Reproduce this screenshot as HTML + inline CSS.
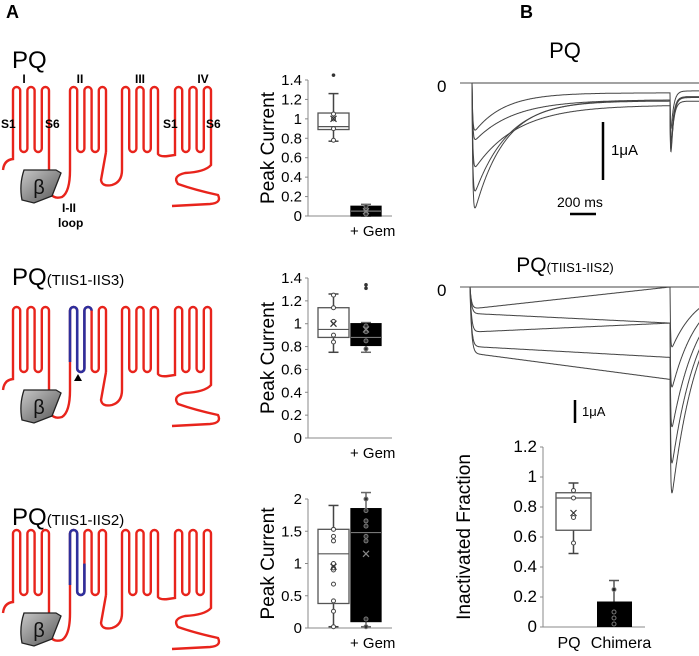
<!DOCTYPE html>
<html><head><meta charset="utf-8"><style>
body{margin:0;background:#fff}
svg{display:block;font-family:"Liberation Sans",sans-serif}
</style></head><body>
<svg id="fig" width="699" height="656" viewBox="0 0 699 656">
<text x="6" y="18" font-size="18" font-weight="bold">A</text>
<text x="520" y="18" font-size="18" font-weight="bold">B</text>
<g id="schem"></g>
<g id="charts"></g>
<g id="traces"></g>
</svg>
<script>
const NS="http://www.w3.org/2000/svg";
function el(parent,tag,attrs,txt){const e=document.createElementNS(NS,tag);for(const k in attrs)e.setAttribute(k,attrs[k]);if(txt!==undefined)e.textContent=txt;parent.appendChild(e);return e;}

/* ---------- Schematics ---------- */
const schem=document.getElementById('schem');
const domainX=[13,70,122,175];
function serp(x0,top,bot){let d=`M${x0},${bot}`;const w=7.2;for(let i=0;i<6;i++){const x=x0+i*w;if(i%2===0){d+=` L${x},${top+3.6} A3.6,3.6 0 0 1 ${x+w},${top+3.6}`;}else if(i<5){d+=` L${x},${bot-3.6} A3.6,3.6 0 0 0 ${x+w},${bot-3.6}`;}else{d+=` L${x},${bot}`;}}return d;}
function drawSchem(dy,titleY,blueCount,title,sub,showLabels,idx){
  const g=el(schem,'g',{});
  const t=el(g,'text',{x:12,y:titleY,'font-size':24,},title);
  if(sub){el(t,'tspan',{'font-size':15},sub);}
  const top=87+dy,bot=152+dy;
  const red='#e8241c';
  domainX.forEach((x0,i)=>{el(g,'path',{d:serp(x0,top,bot),fill:'none',stroke:red,'stroke-width':2.4,});});
  const c=[`M3,${170+dy} Q4,${160+dy} 13,${159+dy} L13,${bot}`,
    `M49,${bot} L49,${190+dy} Q52,${200+dy} 62,${197+dy} Q70,${192+dy} 70,${170+dy} L70,${bot}`,
    `M106,${bot} L101,${180+dy} Q102,${187+dy} 112,${185+dy} Q122,${182+dy} 122,${170+dy} L122,${bot}`,
    `M158,${bot} L158,${154+dy} Q160,${157+dy} 168,${156+dy} L175,${155+dy} L175,${bot}`,
    `M211,${bot} L211,${165+dy} Q205,${172+dy} 185,${173+dy} Q172,${176+dy} 178,${184+dy} Q195,${190+dy} 218,${195+dy} Q222,${203+dy} 210,${204+dy} L172,${206+dy}`];
  c.forEach(d=>el(g,'path',{d,fill:'none',stroke:red,'stroke-width':2.4,}));
  if(blueCount){const w=7.2;let d=`M70,${bot-10}`;for(let i=0;i<blueCount;i++){const x=70+i*w;if(i%2===0){d+=` L${x},${top+3.6} A3.6,3.6 0 0 1 ${x+w},${top+3.6}`;}else{d+=` L${x},${bot-3.6} A3.6,3.6 0 0 0 ${x+w},${bot-3.6}`;}}d+=` L${70+blueCount*w},${top+3.6+(blueCount%2?0:30)}`;
    el(g,'path',{d,fill:'none',stroke:'#2e2f9c','stroke-width':2.6,});}
  const by=170+dy;
  const grad=el(g,'linearGradient',{id:'bg'+idx,x1:0,y1:0,x2:1,y2:1});
  el(grad,'stop',{offset:0,'stop-color':'#c8c8c8'});el(grad,'stop',{offset:1,'stop-color':'#555'});
  el(g,'path',{d:`M24,${by} L56,${by} L61,${by+3} L52,${by+26} L34,${by+33} L22,${by+30} Q19,${by+15} 24,${by}Z`,fill:`url(#bg${idx})`,stroke:'#222','stroke-width':1.3,});
  el(g,'text',{x:39,y:by+24,'font-size':20,'text-anchor':'middle',fill:'#111',},'β');
  if(showLabels){
    [['I',24],['II',80],['III',140],['IV',203]].forEach(([s,x])=>el(g,'text',{x,y:83,'font-size':12,'font-weight':'bold','text-anchor':'middle',},s));
    [['S1',1],['S6',45],['S1',163],['S6',206]].forEach(([s,x])=>el(g,'text',{x,y:128,'font-size':12,'font-weight':'bold',},s));
    el(g,'text',{x:62,y:212,'font-size':12,'font-weight':'bold',},'I-II');
    el(g,'text',{x:58,y:227,'font-size':12,'font-weight':'bold',},'loop');
  }
  return g;
}
drawSchem(0,68,0,'PQ','',true,1);
const g2=drawSchem(220,285,3,'PQ','(TIIS1-IIS3)',false,2);
el(g2,'path',{d:'M78,374 L82,381 L74,381Z',fill:'#000',});
drawSchem(443,525,2,'PQ','(TIIS1-IIS2)',false,3);

/* ---------- Box plot data ---------- */
const c1Ticks=[0,0.2,0.4,0.6,0.8,1,1.2,1.4];
const c1PQ=[0.77,0.89,0.92,1.06,1.26];
const c1PQMean=1.0, c1PQOut=[1.45];
const c1PQPts=[0.9,1.0,1.05,0.78];
const c1Gem=[0.0,0.0,0.05,0.1,0.12];
const c1GemMean=0.05, c1GemOut=[];
const c1GemPts=[0.02,0.06,0.1];

const c2Ticks=[0,0.2,0.4,0.6,0.8,1,1.2,1.4];
const c2PQ=[0.75,0.88,0.95,1.14,1.26];
const c2PQMean=1.0, c2PQOut=[];
const c2PQPts=[0.84,0.9,1.02,1.14,1.25];
const c2Gem=[0.75,0.81,0.88,1.0,1.01];
const c2GemMean=0.95, c2GemOut=[1.31,1.34];
const c2GemPts=[0.78,0.85,0.93,0.98];

const c3Ticks=[0,0.5,1,1.5,2];
const c3PQ=[0.02,0.38,1.15,1.53,1.9];
const c3PQMean=0.95, c3PQOut=[];
const c3PQPts=[0.02,0.26,0.42,0.68,0.9,0.93,1.0,1.35,1.42,1.53];
const c3Gem=[0.02,0.1,1.48,1.85,2.1];
const c3GemMean=1.15, c3GemOut=[];
const c3GemPts=[0.02,0.14,1.35,1.42,1.58,1.66,1.82,2.0];

const ifTicks=[0,0.2,0.4,0.6,0.8,1,1.2];
const ifPQ=[0.49,0.645,0.86,0.895,0.96];
const ifPQMean=0.76;
const ifPQPts=[0.56,0.73,0.86,0.91];
const ifChimera=0.17, ifChimeraErr=0.31;
const ifChimeraPts=[0.02,0.06,0.1,0.25];

const charts=document.getElementById('charts');
function scaleY(y0,y1,vmax){return v=>y0-(y0-y1)*v/vmax;}
function axis(g,ax,y0,y1,x1,ticks,vmax,fmt,fs){
  const Y=scaleY(y0,y1,vmax);
  el(g,'line',{x1:ax,y1:Y(vmax),x2:ax,y2:y0,stroke:'#888','stroke-width':1,});
  el(g,'line',{x1:ax,y1:y0,x2:x1,y2:y0,stroke:'#888','stroke-width':1,});
  ticks.forEach(t=>{el(g,'line',{x1:ax-3,y1:Y(t),x2:ax,y2:Y(t),stroke:'#888',});
    el(g,'text',{x:ax-6,y:Y(t)+5,'font-size':fs,'text-anchor':'end',},fmt(t));});
  return Y;
}
function box(g,Y,xl,xr,st,mean,outs,pts,dark,name){
  const bg=el(g,'g',{});
  const xc=(xl+xr)/2, wc=dark?'#666':'#444';
  el(bg,'line',{x1:xc,y1:Y(st[0]),x2:xc,y2:Y(st[4]),stroke:wc,'stroke-width':1.5,});
  [st[0],st[4]].forEach(v=>el(bg,'line',{x1:xc-5,y1:Y(v),x2:xc+5,y2:Y(v),stroke:wc,'stroke-width':1.5,}));
  el(bg,'rect',{x:xl,y:Y(st[3]),width:xr-xl,height:Math.max(1,Y(st[1])-Y(st[3])),fill:dark?'#000':'#fff',stroke:dark?'#000':'#555','stroke-width':1.3,});
  el(bg,'line',{x1:xl,y1:Y(st[2]),x2:xr,y2:Y(st[2]),stroke:dark?'#777':'#555','stroke-width':1.2,});
  const pc=dark?'#777':'#444';
  pts.forEach(v=>el(bg,'circle',{cx:xc,cy:Y(v),r:2,fill:dark?'#333':'#fff',stroke:pc,'stroke-width':1,}));
  outs.forEach(v=>el(bg,'circle',{cx:xc,cy:Y(v),r:1.8,fill:'#333',}));
  const m=Y(mean);
  el(bg,'path',{d:`M${xc-3},${m-3}L${xc+3},${m+3}M${xc+3},${m-3}L${xc-3},${m+3}`,stroke:dark?'#888':'#333','stroke-width':1.2,});
}
function peakChart(idx,y0,y1,vmax,ticks,fmt,pq,pqm,pqo,pqp,gem,gm,go,gp){
  const g=el(charts,'g',{});
  const Y=axis(g,308,y0,y1,392,ticks,vmax,fmt,15);
  el(g,'text',{x:0,y:0,transform:`translate(274,${(y0+y1)/2}) rotate(-90)`,'font-size':19,'text-anchor':'middle',},'Peak Current');
  box(g,Y,318,349,pq,pqm,pqo,pqp,false,'box-pq');
  box(g,Y,351,381,gem,gm,go,gp,true,'box-gem');
  el(g,'text',{x:350,y:y0+20,'font-size':15,},'+ Gem');
}
const f1=t=>String(t);
peakChart(1,216,80,1.4,c1Ticks,f1,c1PQ,c1PQMean,c1PQOut,c1PQPts,c1Gem,c1GemMean,c1GemOut,c1GemPts);
peakChart(2,438,278,1.4,c2Ticks,f1,c2PQ,c2PQMean,c2PQOut,c2PQPts,c2Gem,c2GemMean,c2GemOut,c2GemPts);
peakChart(3,628,499,2,c3Ticks,f1,c3PQ,c3PQMean,c3PQOut,c3PQPts,c3Gem,c3GemMean,c3GemOut,c3GemPts);

(function(){
  const g=el(charts,'g',{});
  const Y=axis(g,543,627,447,645,ifTicks,1.2,f1,17);
  el(g,'text',{x:0,y:0,transform:'translate(470,537) rotate(-90)','font-size':19,'text-anchor':'middle',},'Inactivated Fraction');
  box(g,Y,556,591,ifPQ,ifPQMean,[],ifPQPts,false,'box-pq');
  const bg=el(g,'g',{});
  el(bg,'line',{x1:614,y1:Y(ifChimera),x2:614,y2:Y(ifChimeraErr),stroke:'#555','stroke-width':1.5,});
  el(bg,'line',{x1:609,y1:Y(ifChimeraErr),x2:619,y2:Y(ifChimeraErr),stroke:'#555','stroke-width':1.5,});
  el(bg,'rect',{x:597,y:Y(ifChimera),width:35,height:Y(0)-Y(ifChimera),fill:'#000',});
  ifChimeraPts.forEach(v=>el(bg,'circle',{cx:614,cy:Y(v),r:2,fill:v>ifChimera?'#222':'none',stroke:'#777',}));
  el(g,'text',{x:569,y:648,'font-size':16,'text-anchor':'middle',},'PQ');
  el(g,'text',{x:621,y:648,'font-size':16,'text-anchor':'middle',},'Chimera');
})();

/* ---------- Current traces ---------- */
const topPeaks=[0,0.9,1.05,1.55,2.05,2.4];      // μA
const topEnds=[0,0.17,0.29,0.38,0.29,0.31];
const topTau=[1,230,300,330,260,230];             // ms
const topTails=[0,1.1,1.3,1.4,1.5,1.6];
const midStarts=[0,1.0,1.2,2.05,2.7,3.0];
const midEnds=[0,0,1.64,1.64,3.2,4.2];
const midTails=[0,3.0,5.0,7.0,8.8,10.3];
const tr=document.getElementById('traces');
function traces(name,x0,xEnd,yBase,pxPerUA,fn,tails,tailTau,tailRest){
  const g=el(tr,'g',{});
  el(g,'line',{x1:460,y1:yBase,x2:x0,y2:yBase,stroke:'#555','stroke-width':1,});
  const pxPerMs=26/200, dur=(xEnd-x0)/pxPerMs;
  for(let i=0;i<fn.length;i++){
    let d=`M${x0},${yBase}`;
    for(let t=0;t<=dur;t+=2){d+=` L${(x0+t*pxPerMs).toFixed(1)},${(yBase+fn[i](t,dur)*pxPerUA).toFixed(1)}`;}
    const endV=fn[i](dur,dur);
    d+=` L${xEnd},${(yBase+endV*pxPerUA).toFixed(1)}`;
    const tv=tails[i], rest=endV*tailRest;
    for(let t=0;t<=260;t+=2){const rise=1-Math.exp(-t/4);const v=rise*tv*Math.exp(-t/tailTau)+rest+(endV-rest)*Math.exp(-t/3);d+=` L${(xEnd+t*pxPerMs).toFixed(1)},${(yBase+v*pxPerUA).toFixed(1)}`;}
    el(g,'path',{d,fill:'none',stroke:'#444','stroke-width':1,});
  }
  return g;
}
const topFns=topPeaks.map((p,i)=>(t)=>(1-Math.exp(-t/6))*(topEnds[i]+(p-topEnds[i])*Math.exp(-t/topTau[i])));
traces('pq-current-traces',472,670,83,58,topFns,topTails,20,0.8);
el(tr,'text',{x:565,y:58,'font-size':22,'text-anchor':'middle',},'PQ');
el(tr,'text',{x:437,y:92,'font-size':17,},'0');
el(tr,'line',{x1:603,y1:122,x2:603,y2:180,stroke:'#000','stroke-width':2.5,});
el(tr,'text',{x:611,y:155,'font-size':15,},'1μA');
el(tr,'text',{x:557,y:207,'font-size':14,},'200 ms');
el(tr,'line',{x1:570,y1:214,x2:596,y2:214,stroke:'#000','stroke-width':2.5,});

const midFns=midStarts.map((s,i)=>(t,dur)=>{const rise=1-Math.exp(-t/12);return rise*(s+(midEnds[i]-s)*(t/dur));});
traces('chimera-current-traces',470,670,287,22,midFns,midTails,200,0);
const tt=el(tr,'text',{x:565,y:272,'font-size':21,'text-anchor':'middle',},'PQ');
el(tt,'tspan',{'font-size':13},'(TIIS1-IIS2)');
el(tr,'text',{x:437,y:296,'font-size':17,},'0');
el(tr,'line',{x1:575,y1:400,x2:575,y2:423,stroke:'#000','stroke-width':2.5,});
el(tr,'text',{x:582,y:416,'font-size':13,},'1μA');
</script>
</body></html>
